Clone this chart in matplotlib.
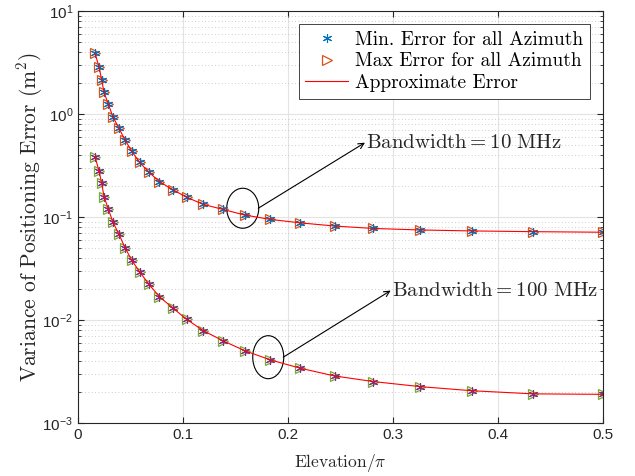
import numpy as np
import matplotlib as mpl
import matplotlib.pyplot as plt
from matplotlib.patches import Ellipse
from matplotlib.transforms import ScaledTranslation

# elevation / pi of the sampled points
elevation = [0.0162, 0.0200, 0.0226, 0.0248, 0.0290, 0.0333, 0.0390, 0.0448,
             0.0510, 0.0586, 0.0676, 0.0776, 0.0905, 0.1035, 0.1193, 0.1378,
             0.1586, 0.1833, 0.2119, 0.2443, 0.2814, 0.3257, 0.3752, 0.4336,
             0.5000]

# Bandwidth = 10 MHz
err_10_min = [3.89, 2.88, 2.14, 1.63, 1.24, 0.94, 0.73, 0.56, 0.44, 0.34,
              0.273, 0.221, 0.184, 0.156, 0.133, 0.119, 0.105, 0.095, 0.088,
              0.082, 0.0777, 0.0751, 0.0735, 0.0723, 0.0714]
err_10_max = [3.89, 2.88, 2.14, 1.63, 1.24, 0.94, 0.73, 0.56, 0.44, 0.34,
              0.273, 0.221, 0.184, 0.156, 0.133, 0.119, 0.105, 0.095, 0.088,
              0.082, 0.0777, 0.0751, 0.0735, 0.0723, 0.0714]
err_10_approx = [3.89, 2.88, 2.14, 1.63, 1.24, 0.94, 0.73, 0.56, 0.44, 0.34,
                 0.273, 0.221, 0.184, 0.156, 0.133, 0.119, 0.105, 0.095,
                 0.088, 0.082, 0.0777, 0.0751, 0.0735, 0.0723, 0.0714]

# Bandwidth = 100 MHz
err_100_min = [0.386, 0.282, 0.213, 0.158, 0.119, 0.0893, 0.0683, 0.0506,
               0.0385, 0.0296, 0.0223, 0.0169, 0.0131, 0.0102, 0.00793,
               0.00634, 0.00507, 0.00412, 0.00342, 0.00288, 0.00254,
               0.00227, 0.00207, 0.00193, 0.00191]
err_100_max = [0.386, 0.282, 0.213, 0.158, 0.119, 0.0893, 0.0683, 0.0506,
               0.0385, 0.0296, 0.0223, 0.0169, 0.0131, 0.0102, 0.00793,
               0.00634, 0.00507, 0.00412, 0.00342, 0.00288, 0.00254,
               0.00227, 0.00207, 0.00193, 0.00191]
err_100_approx = [0.386, 0.282, 0.213, 0.158, 0.119, 0.0893, 0.0683, 0.0506,
                  0.0385, 0.0296, 0.0223, 0.0169, 0.0131, 0.0102, 0.00793,
                  0.00634, 0.00507, 0.00412, 0.00342, 0.00288, 0.00254,
                  0.00227, 0.00207, 0.00193, 0.00191]

legend_labels = ['Min. Error for all Azimuth', 'Max Error for all Azimuth',
                 'Approximate Error']

mpl.rcParams['font.family'] = ['Liberation Sans']
mpl.rcParams['axes.formatter.use_mathtext'] = True

fig = plt.figure(figsize=(6.35, 4.76), dpi=100)
axes = fig.add_axes([0.1228, 0.1107, 0.8268, 0.8662])

star = (6, 2, 0)
axes.plot(elevation, err_10_max, ls='none', marker='>', ms=7.5, mfc='none',
          mec='#D95319', mew=0.9, label=legend_labels[1])
axes.plot(elevation, err_10_min, ls='none', marker=star, ms=6.5,
          mec='#0072BD', mew=0.8, label=legend_labels[0])
axes.plot(elevation, err_10_approx, color='#FF0000', lw=0.8,
          label=legend_labels[2])
axes.plot(elevation, err_100_max, ls='none', marker='>', ms=7.5, mfc='none',
          mec='#77AC30', mew=0.9)
axes.plot(elevation, err_100_min, ls='none', marker=star, ms=6.5,
          mec='#7E2F8E', mew=0.8)
axes.plot(elevation, err_100_approx, color='#FF0000', lw=0.8)

axes.set_yscale('log')
axes.set_xlim(0, 0.5)
axes.set_ylim(1e-3, 1e1)
axes.set_xticks(np.arange(0, 0.51, 0.1))
axes.set_xticklabels(['0', '0.1', '0.2', '0.3', '0.4', '0.5'])

axes.grid(which='major', color='#E3E3E3', lw=0.8, ls='-')
axes.grid(which='minor', axis='y', color='#BDBDBD', lw=0.6, ls=(0, (1, 3)))
axes.set_axisbelow(True)
axes.tick_params(which='both', direction='in', top=True, right=True,
                 labelsize=11, labelcolor='#262626', color='#262626')
axes.tick_params(which='major', length=4)
axes.tick_params(which='minor', length=2.5)
for spine in axes.spines.values():
    spine.set_color('#262626')
    spine.set_linewidth(0.8)

axes.set_xlabel(r'Elevation$/\pi$', fontfamily='cmr10', math_fontfamily='cm',
                fontsize=12.5, color='#262626')
axes.xaxis.set_label_coords(0.5, -0.07)
axes.set_ylabel(r'Variance of Positioning Error $(\mathrm{m}^2)$',
                fontfamily='cmr10', math_fontfamily='cm', fontsize=15.5,
                color='#262626', va='center')
axes.yaxis.set_label_coords(-0.091, 0.5)

handles, labels = axes.get_legend_handles_labels()
order = [1, 0, 2]
leg = axes.legend([handles[i] for i in order], [labels[i] for i in order],
                  loc='upper right', bbox_to_anchor=(0.975, 0.969),
                  borderaxespad=0, prop={'family': 'cmr10', 'size': 14},
                  fancybox=False, framealpha=1, edgecolor='#262626',
                  handlelength=2.2, labelspacing=0.2, borderpad=0.35,
                  handletextpad=0.35)
leg.get_frame().set_linewidth(0.6)

# ellipses marking each curve (size in inches, placed at data point)
ellipse_centers = [(0.1569, 0.122), (0.1812, 0.00438)]
ellipse_sizes = [(0.32, 0.40), (0.31, 0.43)]
for (cx, cy), (w, h) in zip(ellipse_centers, ellipse_sizes):
    tr = fig.dpi_scale_trans + ScaledTranslation(cx, cy, axes.transData)
    axes.add_patch(Ellipse((0, 0), w, h, transform=tr, fill=False,
                           ec='black', lw=0.8))

arrow_starts = [(0.1717, 0.122), (0.1955, 0.00438)]
arrow_ends = [(0.2733, 0.528), (0.2978, 0.0194)]
notes = [r'$\mathrm{Bandwidth} = 10\ \mathrm{MHz}$',
         r'$\mathrm{Bandwidth} = 100\ \mathrm{MHz}$']
for start, end, note in zip(arrow_starts, arrow_ends, notes):
    axes.annotate('', xy=end, xytext=start,
                  arrowprops=dict(arrowstyle='->', color='black', lw=0.8,
                                  shrinkA=0, shrinkB=0))
    axes.text(end[0] + 0.001, end[1], note, math_fontfamily='cm',
              fontsize=15, color='#262626', va='center', ha='left')

fig.savefig('out.png', dpi=100)
plt.close(fig)
